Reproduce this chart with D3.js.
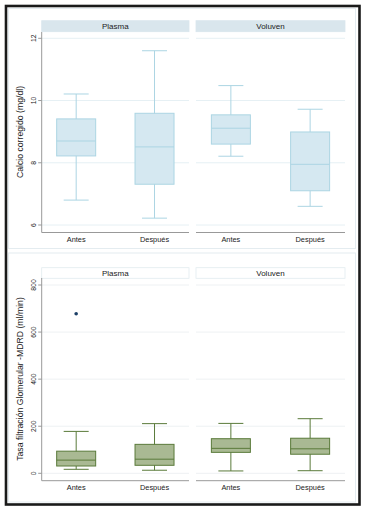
<!DOCTYPE html>
<html>
<head>
<meta charset="utf-8">
<script src="https://cdn.jsdelivr.net/npm/d3@7"></script>
<style>
  body { margin: 0; background: #fff; }
  svg text { font-family: "Liberation Sans", Arial, sans-serif; fill: #222; }
</style>
</head>
<body>
<script>
(function(){

    //data
    var groups = ["Plasma", "Voluven"];
    var times = ["Antes", "Después"];

    //calcio corregido: [lower whisker, q1, median, q3, upper whisker]
    var calcioPlasma = [[6.80, 8.22, 8.70, 9.41, 10.21], [6.22, 7.31, 8.51, 9.59, 11.60]];
    var calcioVoluven = [[8.21, 8.60, 9.11, 9.54, 10.48], [6.60, 7.10, 7.95, 8.99, 9.72]];
    var calcioTicks = [6, 8, 10, 12];

    //tasa filtracion glomerular MDRD
    var mdrdPlasma = [[17, 31, 56, 94, 178], [13, 34, 60, 123, 211]];
    var mdrdVoluven = [[10, 89, 106, 147, 212], [11, 81, 104, 149, 232]];
    var mdrdOutliers = [{group: "Plasma", time: "Antes", value: 678}];
    var mdrdTicks = [0, 200, 400, 600, 800];

    var width = 365,
        height = 512;

    var svg = d3.select("body")
        .append("svg")
        .attr("width", width)
        .attr("height", height);

    //outer frame
    svg.append("rect")
        .attr("x", 6).attr("y", 6)
        .attr("width", 353.5).attr("height", 498.5)
        .attr("fill", "none")
        .attr("stroke", "#1a1a1a")
        .attr("stroke-width", 2.6);

    //panel x positions (shared by both charts)
    var panelX = {Plasma: [41.7, 189], Voluven: [196, 345]};

    function drawChart(cfg){

        //faint graph region border
        svg.append("rect")
            .attr("x", cfg.frame[0]).attr("y", cfg.frame[1])
            .attr("width", cfg.frame[2]).attr("height", cfg.frame[3])
            .attr("fill", "none")
            .attr("stroke", "#e4ecf0")
            .attr("stroke-width", 1);

        var y = d3.scaleLinear()
            .domain(cfg.domain)
            .range(cfg.range);

        groups.forEach(function(g, gi){
            var x0 = panelX[g][0], x1 = panelX[g][1];

            var x = d3.scalePoint()
                .domain(times)
                .range([x0, x1])
                .padding(0.44);

            //strip header
            svg.append("rect")
                .attr("x", x0).attr("y", cfg.strip[0])
                .attr("width", x1 - x0).attr("height", cfg.strip[1] - cfg.strip[0])
                .attr("fill", cfg.stripFill)
                .attr("stroke", cfg.stripStroke)
                .attr("stroke-width", 0.8);

            svg.append("text")
                .attr("x", (x0 + x1) / 2)
                .attr("y", (cfg.strip[0] + cfg.strip[1]) / 2 + 2.8)
                .attr("text-anchor", "middle")
                .attr("font-size", 8)
                .text(g);

            //gridlines
            svg.selectAll(null)
                .data(cfg.ticks)
                .enter()
                .append("line")
                .attr("x1", x0).attr("x2", x1)
                .attr("y1", function(d){ return y(d); })
                .attr("y2", function(d){ return y(d); })
                .attr("stroke", cfg.grid)
                .attr("stroke-width", 1);

            //x axis line
            svg.append("line")
                .attr("x1", x0).attr("x2", x1)
                .attr("y1", cfg.axisY[1]).attr("y2", cfg.axisY[1])
                .attr("stroke", "#999")
                .attr("stroke-width", 1);

            //category labels
            svg.selectAll(null)
                .data(times)
                .enter()
                .append("text")
                .attr("x", function(d){ return x(d); })
                .attr("y", cfg.axisY[1] + 9.3)
                .attr("text-anchor", "middle")
                .attr("font-size", 7.4)
                .text(function(d){ return d; });

            //boxes
            var stats = cfg.data[gi];
            var boxW = 39, capW = 25;
            var box = svg.selectAll(null)
                .data(stats)
                .enter()
                .append("g")
                .attr("transform", function(d, i){ return "translate(" + x(times[i]) + ",0)"; });

            box.append("line")
                .attr("x1", 0).attr("x2", 0)
                .attr("y1", function(d){ return y(d[0]); })
                .attr("y2", function(d){ return y(d[4]); })
                .attr("stroke", cfg.boxStroke)
                .attr("stroke-width", 1);

            box.selectAll(".cap")
                .data(function(d){ return [d[0], d[4]]; })
                .enter()
                .append("line")
                .attr("x1", -capW / 2).attr("x2", capW / 2)
                .attr("y1", function(v){ return y(v); })
                .attr("y2", function(v){ return y(v); })
                .attr("stroke", cfg.boxStroke)
                .attr("stroke-width", 1);

            box.append("rect")
                .attr("x", -boxW / 2)
                .attr("y", function(d){ return y(d[3]); })
                .attr("width", boxW)
                .attr("height", function(d){ return y(d[1]) - y(d[3]); })
                .attr("fill", cfg.boxFill)
                .attr("stroke", cfg.boxStroke)
                .attr("stroke-width", 1);

            box.append("line")
                .attr("x1", -boxW / 2).attr("x2", boxW / 2)
                .attr("y1", function(d){ return y(d[2]); })
                .attr("y2", function(d){ return y(d[2]); })
                .attr("stroke", cfg.boxStroke)
                .attr("stroke-width", 1);

            //outliers
            svg.selectAll(null)
                .data(cfg.outliers.filter(function(o){ return o.group == g; }))
                .enter()
                .append("circle")
                .attr("cx", function(o){ return x(o.time); })
                .attr("cy", function(o){ return y(o.value); })
                .attr("r", 1.8)
                .attr("fill", "#1c3f66");
        });

        //y axis
        var x0 = panelX.Plasma[0];
        svg.append("line")
            .attr("x1", x0).attr("x2", x0)
            .attr("y1", cfg.axisY[0]).attr("y2", cfg.axisY[1])
            .attr("stroke", "#999")
            .attr("stroke-width", 1);

        svg.selectAll(null)
            .data(cfg.ticks)
            .enter()
            .append("line")
            .attr("x1", x0 - 3.5).attr("x2", x0)
            .attr("y1", function(d){ return y(d); })
            .attr("y2", function(d){ return y(d); })
            .attr("stroke", "#999")
            .attr("stroke-width", 1);

        svg.selectAll(null)
            .data(cfg.ticks)
            .enter()
            .append("text")
            .attr("transform", function(d){ return "translate(" + (x0 - 6) + "," + y(d) + ") rotate(-90)"; })
            .attr("text-anchor", "middle")
            .attr("font-size", 6.8)
            .text(function(d){ return d; });

        svg.append("text")
            .attr("transform", "translate(23," + cfg.titleY + ") rotate(-90)")
            .attr("text-anchor", "middle")
            .attr("font-size", 8.7)
            .text(cfg.title);
    }

    drawChart({
        frame: [8.5, 8.5, 347, 240],
        domain: [6, 12],
        range: [225, 38.3],
        axisY: [32, 232.5],
        strip: [20.7, 31.7],
        stripFill: "#d9e6ed",
        stripStroke: "#d9e6ed",
        grid: "#e6f0f4",
        ticks: calcioTicks,
        data: [calcioPlasma, calcioVoluven],
        outliers: [],
        boxFill: "#d5e8f1",
        boxStroke: "#acd5e3",
        title: "Calcio corregido (mg/dl)",
        titleY: 132
    });

    drawChart({
        frame: [8.5, 253, 347, 249],
        domain: [0, 800],
        range: [473.3, 285],
        axisY: [278, 480.7],
        strip: [267.7, 278.3],
        stripFill: "#fff",
        stripStroke: "#e2ebef",
        grid: "#eef1f3",
        ticks: mdrdTicks,
        data: [mdrdPlasma, mdrdVoluven],
        outliers: mdrdOutliers,
        boxFill: "#a9b993",
        boxStroke: "#5a7a3a",
        title: "Tasa filtración Glomerular -MDRD (ml/min)",
        titleY: 379
    });

})();
</script>
</body>
</html>
